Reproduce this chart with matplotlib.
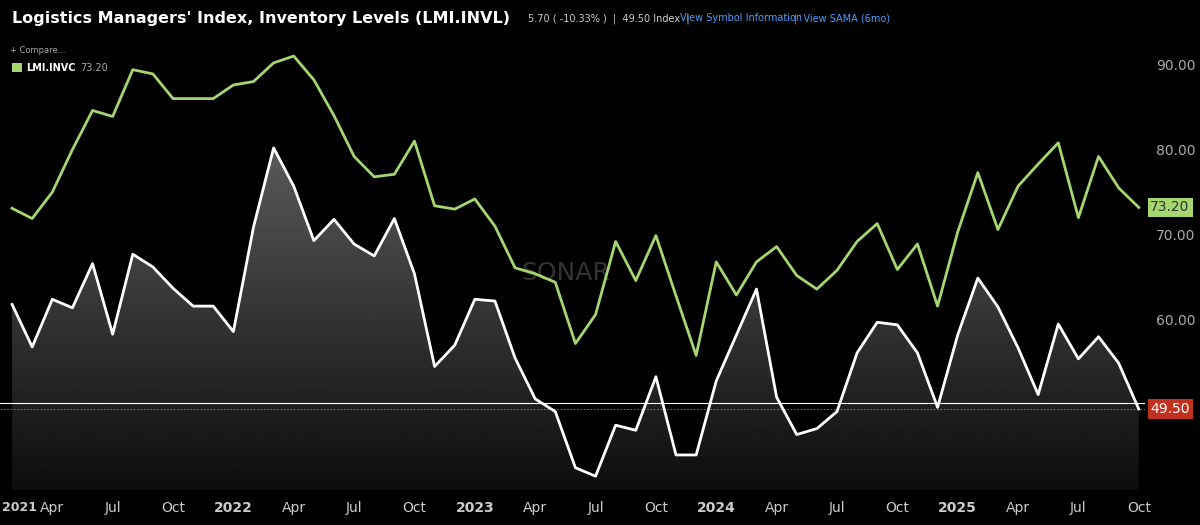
import matplotlib
matplotlib.use("Agg")
import matplotlib.pyplot as plt
import numpy as np
import pandas as pd
from matplotlib.patches import Polygon

dates = pd.date_range("2021-02-01", "2025-10-01", freq="MS")
invc = [73.1,71.9,75,80,84.6,83.9,89.4,88.9,86,86,86,87.6,88,90.2,91,88.2,84,79.2,76.8,77.1,81,73.4,73,74.2,
        71,66.1,65.4,64.4,57.2,60.6,69.2,64.6,69.9,62.8,55.8,66.8,62.9,66.8,68.6,65.2,63.6,65.8,69.2,71.3,65.9,
        68.9,61.6,70.3,77.3,70.6,75.7,78.3,80.8,72,79.2,75.5,73.2]
invl = [61.8,56.8,62.4,61.4,66.6,58.3,67.7,66.2,63.7,61.6,61.6,58.6,70.9,80.2,75.7,69.3,71.8,68.9,67.5,71.9,65.4,
        54.5,57,62.4,62.2,55.5,50.7,49.2,42.6,41.6,47.6,47,53.3,44.1,44.1,52.8,58.2,63.6,50.9,46.5,47.2,49.2,56.1,
        59.7,59.4,56.1,49.7,58.2,64.9,61.5,56.7,51.2,59.5,55.4,58,54.9,49.5]
yticks = [60, 70, 80, 90]

fig = plt.figure(figsize=(12, 5.25), dpi=100, facecolor="black")
ax = fig.add_axes([0.0, 0.067, 0.954, 0.857], facecolor="black")
x = np.arange(len(dates))
ymin, ymax = 40, 92.9
ax.set_ylim(ymin, ymax)
xlo, xhi = -0.6, len(dates) - 1 + 0.3

grad = np.linspace(0.35, 0.05, 256).reshape(-1, 1)
im = ax.imshow(grad, extent=[x[0], x[-1], ymin, max(invl)], aspect="auto", cmap="gray",
               vmin=0, vmax=1, origin="upper", zorder=1)
poly = Polygon(np.column_stack([np.r_[x, x[-1], x[0]], np.r_[invl, ymin, ymin]]), closed=True,
               facecolor="none", edgecolor="none")
ax.add_patch(poly)
im.set_clip_path(poly)

ax.plot(x, invc, color="#a6d66f", lw=2, zorder=3)
ax.plot(x, invl, color="white", lw=2, zorder=3)
ax.axhline(50.2, color="white", lw=0.8, zorder=2)
ax.axhline(49.5, color="#888888", lw=0.6, ls=(0, (2, 2)), zorder=2)

ax.text(len(dates)/2 - 1, 65.5, "SONAR", color="#333333", fontsize=18, ha="center", va="center", zorder=0)

for s in ax.spines.values():
    s.set_visible(False)
ax.yaxis.tick_right()
ax.set_yticks(yticks)
ax.set_yticklabels([f"{v:.2f}" for v in yticks])
ax.tick_params(axis="y", colors="#aaaaaa", length=0, labelsize=10, pad=8)

tick_idx, tick_lab = [], []
for i, d in enumerate(dates):
    if d.month in (1, 4, 7, 10):
        tick_idx.append(i)
        tick_lab.append(str(d.year) if d.month == 1 else d.strftime("%b"))
ax.set_xticks(tick_idx)
ax.set_xticklabels(tick_lab)
for t, l in zip(ax.get_xticklabels(), tick_lab):
    if l.isdigit():
        t.set_fontweight("bold")
ax.tick_params(axis="x", colors="#cccccc", length=0, labelsize=10, pad=8)
ax.set_xlim(xlo, xhi)
fig.text(0.002, 0.033, "2021", color="#cccccc", fontsize=9, fontweight="bold", va="center")

ax.annotate("73.20", xy=(1.0, invc[-1]), xycoords=("axes fraction", "data"), xytext=(4, 0),
            textcoords="offset points", color="#333333", fontsize=10, va="center",
            bbox=dict(boxstyle="square,pad=0.2", fc="#a6d66f", ec="none"), annotation_clip=False)
ax.annotate("49.50", xy=(1.0, invl[-1]), xycoords=("axes fraction", "data"), xytext=(4, 0),
            textcoords="offset points", color="white", fontsize=10, va="center",
            bbox=dict(boxstyle="square,pad=0.2", fc="#c0321e", ec="none"), annotation_clip=False)

fig.text(0.01, 0.965, "Logistics Managers' Index, Inventory Levels (LMI.INVL)", color="white",
         fontsize=11.5, fontweight="bold", va="center")
fig.text(0.44, 0.965, "5.70 ( -10.33% )  |  49.50 Index  |", color="#cccccc", fontsize=7, va="center")
fig.text(0.567, 0.965, "View Symbol Information", color="#4a9eff", fontsize=7, va="center")
fig.text(0.662, 0.965, "|  View SAMA (6mo)", color="#4a9eff", fontsize=7, va="center")
fig.text(0.008, 0.903, "+ Compare...", color="#aaaaaa", fontsize=6, va="center")
fig.patches.append(plt.Rectangle((0.010, 0.862), 0.008, 0.018, transform=fig.transFigure,
                                 fc="#a6d66f", ec="none"))
fig.text(0.022, 0.871, "LMI.INVC", color="white", fontsize=7, va="center", fontweight="bold")
fig.text(0.067, 0.871, "73.20", color="#aaaaaa", fontsize=7, va="center")

fig.savefig("out.png", facecolor="black")
